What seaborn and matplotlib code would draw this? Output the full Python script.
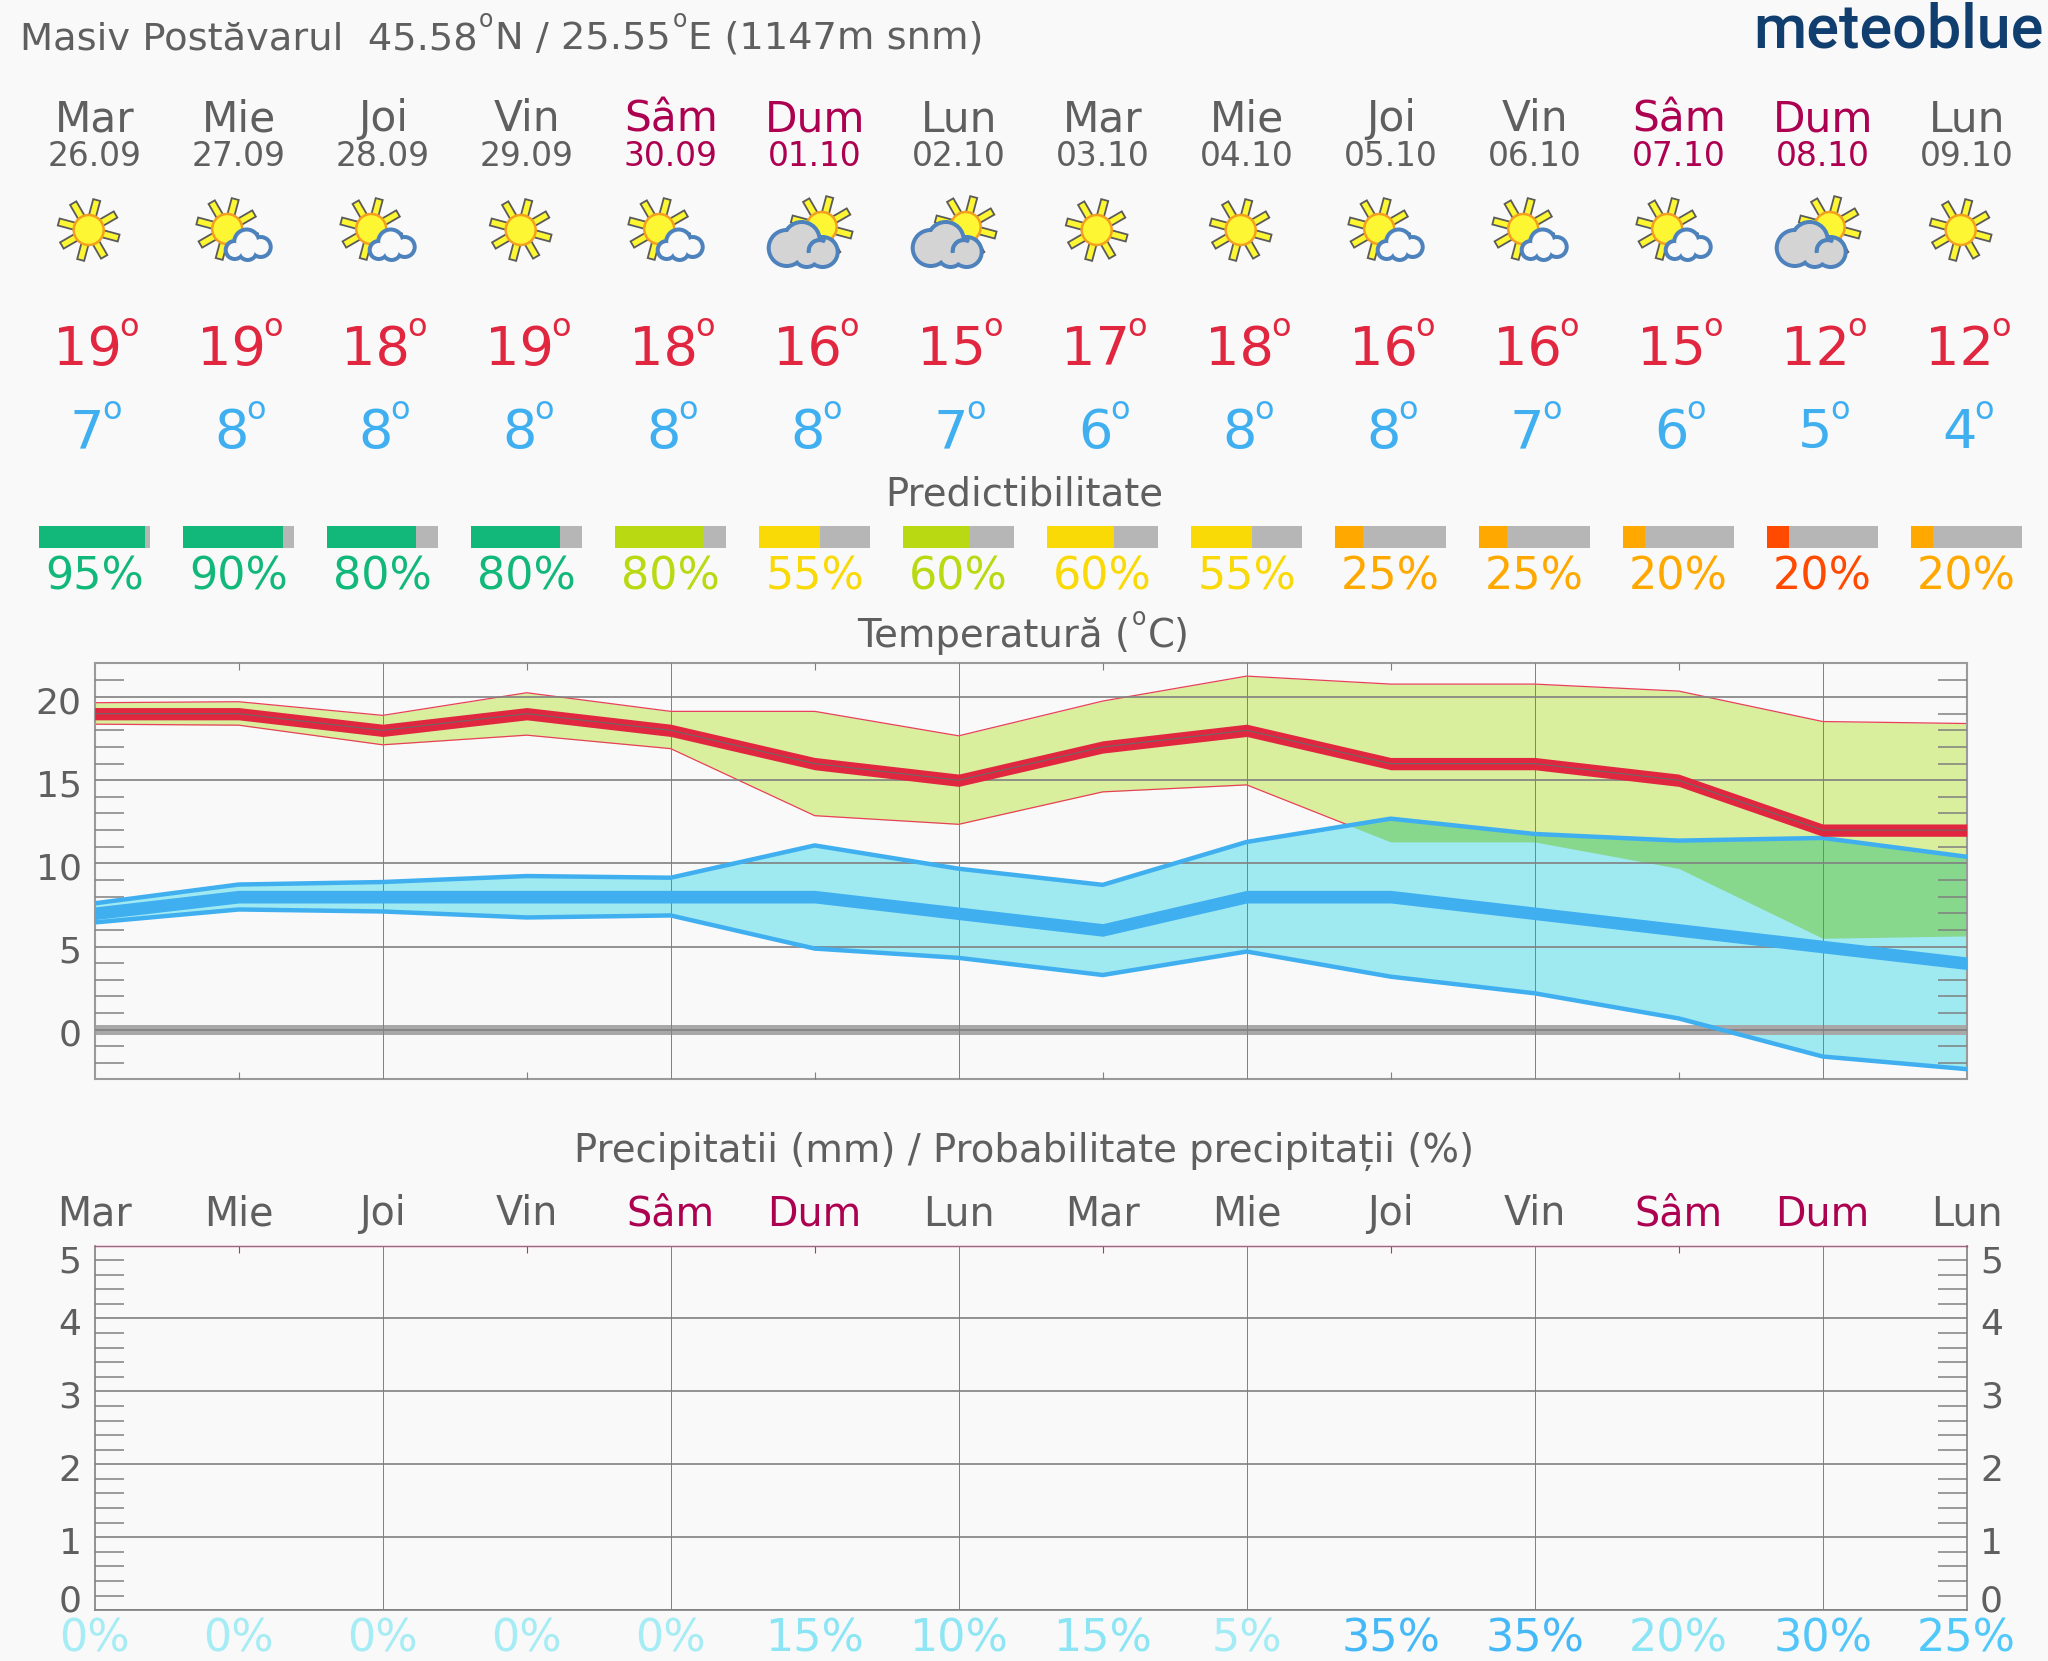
import numpy as np
import seaborn as sns
import matplotlib.pyplot as plt
from matplotlib.patches import Circle, Polygon, Arc
from matplotlib.transforms import ScaledTranslation

day_names = ['Mar', 'Mie', 'Joi', 'Vin', 'Sâm', 'Dum', 'Lun', 'Mar', 'Mie', 'Joi', 'Vin', 'Sâm', 'Dum', 'Lun']
dates = ['26.09', '27.09', '28.09', '29.09', '30.09', '01.10', '02.10',
         '03.10', '04.10', '05.10', '06.10', '07.10', '08.10', '09.10']
icons = ['sun', 'partly', 'partly', 'sun', 'partly', 'cloudy', 'cloudy',
         'sun', 'sun', 'partly', 'partly', 'partly', 'cloudy', 'sun']
temp_max = [19, 19, 18, 19, 18, 16, 15, 17, 18, 16, 16, 15, 12, 12]
temp_min = [7, 8, 8, 8, 8, 8, 7, 6, 8, 8, 7, 6, 5, 4]
predict = [95, 90, 80, 80, 80, 55, 60, 60, 55, 25, 25, 20, 20, 20]
predict_colors = ['#11b87a', '#11b87a', '#11b87a', '#11b87a', '#b9d912', '#f9d906', '#b9d912',
                  '#f9d906', '#f9d906', '#ffa800', '#ffa800', '#ffa800', '#ff4a00', '#ffa800']

max_upper = [19.66, 19.72, 18.9, 20.26, 19.14, 19.14, 17.67, 19.76, 21.26, 20.78, 20.78, 20.36, 18.53, 18.41]
max_lower = [18.37, 18.31, 17.13, 17.71, 16.9, 12.87, 12.35, 14.3, 14.72, 11.29, 11.29, 9.7, 5.5, 5.64]
min_upper = [7.6, 8.73, 8.88, 9.24, 9.14, 11.08, 9.68, 8.71, 11.29, 12.69, 11.77, 11.37, 11.53, 10.4]
min_lower = [6.45, 7.23, 7.11, 6.75, 6.87, 4.88, 4.32, 3.29, 4.7, 3.19, 2.19, 0.68, -1.61, -2.37]

rain_prob = [0, 0, 0, 0, 0, 15, 10, 15, 5, 35, 35, 20, 30, 25]
rain_colors = {0: '#a6ecf5', 5: '#a3ecf5', 10: '#8ee6f5', 15: '#8be5f5', 20: '#8be5f5',
               25: '#50c9fa', 30: '#52c6f8', 35: '#45b9f7'}

W, H = 2048, 1661
BG = '#f9f9f9'
GREY = '#5f5f5f'
WEEKEND = '#ad0050'
RED = '#e1263f'
BLUE = '#40aff0'
LEFT, RIGHT, STEP = 94.7, 1966.7, 144

sns.set_theme(style='white', rc={'figure.facecolor': BG, 'axes.facecolor': BG, 'font.family': 'DejaVu Sans'})
days = np.arange(14)
fig = plt.figure(figsize=(W / 100, H / 100), dpi=100)
renderer = fig.canvas.get_renderer()


def px_axes(top, bottom):
    return fig.add_axes([LEFT / W, 1 - bottom / H, (RIGHT - LEFT) / W, (bottom - top) / H])


def style_axes(ax, y_major, y_minor, frame, frame_w):
    ax.set_xlim(0, 13)
    ax.set_xticks(np.arange(1, 13, 2))
    ax.set_xticks(np.arange(2, 13, 2), minor=True)
    ax.set_xticklabels([])
    ax.set_yticks(y_major, labels=[str(v) for v in y_major])
    ax.set_yticks(y_minor, minor=True)
    ax.set_axisbelow(False)
    ax.grid(True, axis='y', which='major', color='#808080', lw=1.2)
    ax.grid(True, axis='x', which='minor', color='#808080', lw=0.7)
    ax.tick_params(axis='x', which='minor', length=0)
    ax.tick_params(axis='x', which='major', top=True, bottom=True, direction='in', length=5, width=0.8, color='#808080')
    ax.tick_params(axis='y', which='major', length=0, pad=9.5, labelsize=26, labelcolor=GREY)
    ax.tick_params(axis='y', which='minor', left=True, right=True, direction='in', length=21, width=1.1, color='#808080')
    for s in ax.spines.values():
        s.set_visible(True)
        s.set_color(frame)
        s.set_linewidth(frame_w)


def shift_label(tick, dy):
    off = ScaledTranslation(0, -dy / 100, fig.dpi_scale_trans)
    tick.label1.set_transform(tick.label1.get_transform() + off)
    tick.label2.set_transform(tick.label2.get_transform() + off)


# temperature panel
ax = px_axes(663.3, 1079.3)
ax.set_ylim(-2.98, 22.03)
ax.fill_between(days, max_lower, max_upper, color='#d9ef9e', lw=0, zorder=1)
for series in (max_upper, max_lower):
    sns.lineplot(x=days, y=series, ax=ax, color='#e8405a', lw=0.9, zorder=1.05, legend=False)
ax.fill_between(days, min_lower, min_upper, color='#9fe9f1', lw=0, zorder=1.1)
lo, up = np.array(max_lower), np.array(min_upper)
ax.fill_between(days, lo, up, where=up > lo, interpolate=True, color='#87d78c', lw=0, zorder=1.2)
ax.axhspan(-0.3, 0.26, color='#a8a8a8', lw=0, zorder=1.5)

for series in (min_upper, min_lower):
    sns.lineplot(x=days, y=series, ax=ax, color=BLUE, lw=3.2, zorder=3, legend=False)
ax.fill_between(days, np.array(temp_min) - 0.38, np.array(temp_min) + 0.38, color=BLUE, lw=0, zorder=3.2)
ax.fill_between(days, np.array(temp_max) - 0.37, np.array(temp_max) + 0.37, color=RED, lw=0, zorder=3.4)
sns.lineplot(x=days, y=temp_max, ax=ax, color='#6a6a6a', lw=0.8, zorder=3.6, legend=False)

style_axes(ax, [0, 5, 10, 15, 20], [v for v in range(-2, 22) if v % 5], '#9a9a9a', 1.5)
ax.set_xlabel('')
ax.set_ylabel('')
for t in ax.yaxis.get_major_ticks():
    shift_label(t, 2.5)

# precipitation panel, no rain forecast so only the frame is drawn
ax2 = px_axes(1245.5, 1610.2)
ax2.set_ylim(0, 5)
style_axes(ax2, [0, 1, 2, 3, 4, 5], [v / 5 for v in range(1, 25) if v % 5], '#808080', 1.2)
ax2.spines['top'].set_color('#d8246f')
ax2.spines['top'].set_linewidth(1.0)
ax2.tick_params(axis='x', which='major', bottom=False, color='#d8246f')
ax2.tick_params(axis='y', which='major', labelright=True)
for v, t in zip([0, 1, 2, 3, 4, 5], ax2.yaxis.get_major_ticks()):
    shift_label(t, {0: -12, 5: 13.5}.get(v, 3))

# predictability bars
ax3 = px_axes(525.7, 547.8)
ax3.set_xlim(0, 13)
ax3.set_ylim(0, 1)
ax3.axis('off')
bar_w = 111 / STEP
for d, p, c in zip(days, predict, predict_colors):
    ax3.barh(0.5, bar_w, left=d - bar_w / 2, height=1, color='#b6b6b6', lw=0, clip_on=False)
    ax3.barh(0.5, bar_w * p / 100, left=d - bar_w / 2, height=1, color=c, lw=0, clip_on=False)

# everything else sits on a pixel overlay
ov = fig.add_axes([0, 0, 1, 1], zorder=5)
ov.set_xlim(0, W)
ov.set_ylim(H, 0)
ov.axis('off')
ov.patch.set_alpha(0)


def draw_sun(cx, cy):
    c = np.array([cx, cy])
    for ang in np.radians(np.arange(15, 375, 45)):
        u = np.array([np.cos(ang), np.sin(ang)])
        n = np.array([-u[1], u[0]]) * 3.6
        pts = [c + u * 14 + n, c + u * 31 + n, c + u * 31 - n, c + u * 14 - n]
        ov.add_patch(Polygon(pts, fc='#fdf632', ec='#5a5a5a', lw=1.3, zorder=2))
    ov.add_patch(Circle((cx, cy), 15, fc='#fdf632', ec='#f4a01e', lw=1.8, zorder=3))


def draw_cloud(cx, cy, lobes, fill):
    for dx, dy, r in lobes:
        ov.add_patch(Circle((cx + dx, cy + dy), r + 2, fc='#4d82bd', lw=0, zorder=4))
    for dx, dy, r in lobes:
        ov.add_patch(Circle((cx + dx, cy + dy), r - 2, fc=fill, lw=0, zorder=5))


def degree_text(x, y, value, color):
    # number and a raised small o, centred together on x
    num = ov.text(x, y, str(value), ha='left', va='baseline', fontsize=39, color=color)
    w = num.get_window_extent(renderer).width
    left = x - (w + 15) / 2
    num.set_x(left)
    ov.text(left + w - 2, y - 29, 'o', ha='left', va='baseline', fontsize=23, color=color)


def raised_run(x, y, parts, ha='left', fs=27.6):
    # parts alternate plain text and raised o, keeps the o as its own text
    items = []
    total = 0
    for part in parts:
        raised = part == 'o'
        t = ov.text(0, y - 22 if raised else y, part, ha='left', va='baseline',
                    fontsize=17 if raised else fs, color=GREY)
        w = t.get_window_extent(renderer).width + 1.5
        items.append((t, w))
        total += w
    cur = x - total / 2 if ha == 'center' else x
    for t, w in items:
        t.set_x(cur)
        cur += w


small_lobes = [(-13, 5, 9), (-1, -3, 12.5), (13, 2, 10), (0, 6, 9)]
big_lobes = [(-18, 3, 18), (-3, -5, 18), (18, 7, 15), (2, 9, 13)]

for i, (name, date, icon) in enumerate(zip(day_names, dates, icons)):
    x = LEFT + STEP * i
    col = WEEKEND if name in ('Sâm', 'Dum') else GREY
    ov.text(x, 131, name, ha='center', va='baseline', fontsize=30.4, color=col)
    ov.text(x, 166, date, ha='center', va='baseline', fontsize=23.7, color=col)
    degree_text(x, 365, temp_max[i], RED)
    degree_text(x, 448, temp_min[i], BLUE)
    ov.text(x, 589, f'{predict[i]}%', ha='center', va='baseline', fontsize=32, color=predict_colors[i])
    ov.text(x, 1225, name, ha='center', va='baseline', fontsize=28.5, color=col)
    ov.text(x, 1651, f'{rain_prob[i]}%', ha='center', va='baseline', fontsize=32, color=rain_colors[rain_prob[i]])
    if icon == 'sun':
        draw_sun(x - 6, 230)
    elif icon == 'partly':
        draw_sun(x - 11.5, 229)
        draw_cloud(x + 9, 245, small_lobes, BG)
    else:
        draw_sun(x + 7, 227)
        draw_cloud(x - 10, 245, big_lobes, '#d4d4d4')
        ov.add_patch(Arc((x + 5, 251), 22, 22, theta1=170, theta2=300, color='#4d82bd', lw=3, zorder=6))

raised_run(20, 49, ['Masiv Postăvarul  45.58', 'o', 'N / 25.55', 'o', 'E (1147m snm)'])
ov.text(1024, 506, 'Predictibilitate', ha='center', va='baseline', fontsize=27.8, color=GREY)
raised_run(1024, 647, ['Temperatură (', 'o', 'C)'], ha='center', fs=27.8)
ov.text(1024, 1162, 'Precipitatii (mm) / Probabilitate precipitații (%)', ha='center', va='baseline', fontsize=27.8, color=GREY)
ov.text(2044, 48, 'meteoblue', ha='right', va='baseline', fontsize=44, color='#103e6f',
        family='Roboto', weight='medium')

fig.savefig('out.png', dpi=100, facecolor=BG)
